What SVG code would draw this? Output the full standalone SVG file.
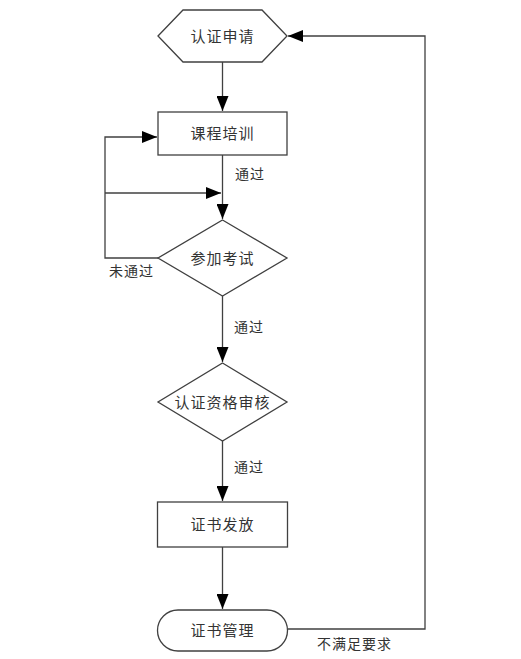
<svg xmlns="http://www.w3.org/2000/svg" width="521" height="659" viewBox="0 0 521 659">
<style>
.shape{fill:#fff;stroke:#404040;stroke-width:1.3}
.conn{fill:none;stroke:#404040;stroke-width:1.3}
.t{font-family:"Liberation Sans","Noto Sans CJK SC",sans-serif;font-size:15px;fill:#333;text-anchor:middle;dominant-baseline:central;letter-spacing:1px}
.l{font-family:"Liberation Sans","Noto Sans CJK SC",sans-serif;font-size:14px;fill:#333;letter-spacing:1px;dominant-baseline:central}
</style>
<defs>
<marker id="arr" markerUnits="userSpaceOnUse" markerWidth="16" markerHeight="12" refX="15" refY="6" orient="auto">
<path d="M0,0 L15,6 L0,12 Z" fill="#000"/>
</marker>
</defs>
<rect width="521" height="659" fill="#fff"/>
<g id="connectors">
<path class="conn" d="M222.5,62 V111" marker-end="url(#arr)"/>
<path class="conn" d="M222.5,155 V219" marker-end="url(#arr)"/>
<path class="conn" d="M158,258 H105 V137 H157" marker-end="url(#arr)"/>
<path class="conn" d="M105,193 H221" marker-end="url(#arr)"/>
<path class="conn" d="M222.5,296 V362" marker-end="url(#arr)"/>
<path class="conn" d="M222.5,441 V501" marker-end="url(#arr)"/>
<path class="conn" d="M222.5,547 V609" marker-end="url(#arr)"/>
<path class="conn" d="M288,629 H425 V36 H288" marker-end="url(#arr)"/>
<text class="l" x="235" y="174">通过</text>
<text class="l" x="109" y="271">未通过</text>
<text class="l" x="234" y="327">通过</text>
<text class="l" x="234" y="467">通过</text>
<text class="l" x="317" y="644">不满足要求</text>
</g>
<g id="n1">
<polygon class="shape" points="158,36 183,10 262,10 287,36 262,62 183,62"/>
<text class="t" x="222.5" y="36">认证申请</text>
</g>
<g id="n2">
<rect class="shape" x="158" y="112" width="129" height="43"/>
<text class="t" x="222.5" y="133.5">课程培训</text>
</g>
<g id="n3">
<polygon class="shape" points="222.5,220 287,258 222.5,296 158,258"/>
<text class="t" x="222.5" y="258">参加考试</text>
</g>
<g id="n4">
<polygon class="shape" points="222.5,363 287,402 222.5,441 158,402"/>
<text class="t" x="222.5" y="402">认证资格审核</text>
</g>
<g id="n5">
<rect class="shape" x="157.5" y="502" width="130" height="45"/>
<text class="t" x="222.5" y="524.5">证书发放</text>
</g>
<g id="n6">
<rect class="shape" x="157.5" y="610" width="130" height="41" rx="20.5" ry="20.5"/>
<text class="t" x="222.5" y="630.5">证书管理</text>
</g>
</svg>
